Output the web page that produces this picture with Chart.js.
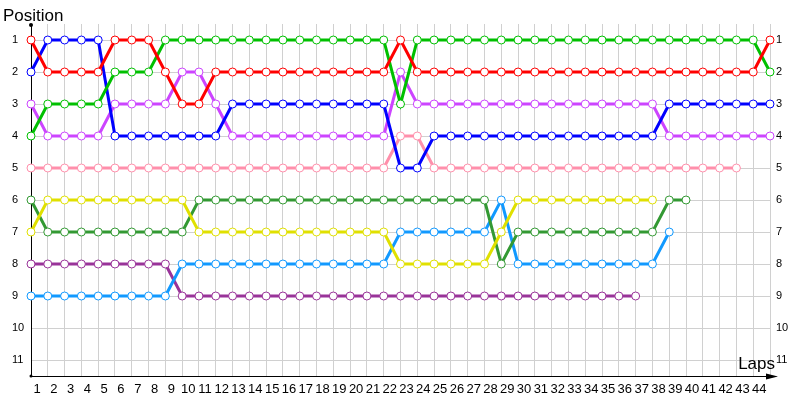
<!DOCTYPE html>
<html>
<head>
<meta charset="utf-8">
<title>Lap chart</title>
<script src="https://cdn.jsdelivr.net/npm/chart.js@4.4.1/dist/chart.umd.min.js"></script>
<style>
  html, body { margin: 0; padding: 0; background: #ffffff; }
</style>
</head>
<body>
<canvas id="graficaVueltas" width="800" height="400"></canvas>
<script>
// =============================================
// DATOS
// =============================================

// Vueltas (0 = salida) y etiquetas del eje X
const vueltas = [0, 1, 2, 3, 4, 5, 6, 7, 8, 9, 10, 11, 12, 13, 14, 15, 16, 17, 18, 19, 20,
  21, 22, 23, 24, 25, 26, 27, 28, 29, 30, 31, 32, 33, 34, 35, 36, 37, 38, 39, 40, 41, 42, 43, 44];
const etiquetasVueltas = ["1", "2", "3", "4", "5", "6", "7", "8", "9", "10", "11", "12", "13", "14",
  "15", "16", "17", "18", "19", "20", "21", "22", "23", "24", "25", "26", "27", "28", "29", "30",
  "31", "32", "33", "34", "35", "36", "37", "38", "39", "40", "41", "42", "43", "44"];
const posiciones = [1, 2, 3, 4, 5, 6, 7, 8, 9, 10, 11];

// Posición de cada piloto en cada vuelta
const rojo = [1, 2, 2, 2, 2, 1, 1, 1, 2, 3, 3, 2, 2, 2, 2, 2, 2, 2, 2, 2, 2, 2, 1, 2, 2,
  2, 2, 2, 2, 2, 2, 2, 2, 2, 2, 2, 2, 2, 2, 2, 2, 2, 2, 2, 1];
const azul = [2, 1, 1, 1, 1, 4, 4, 4, 4, 4, 4, 4, 3, 3, 3, 3, 3, 3, 3, 3, 3, 3, 5, 5, 4,
  4, 4, 4, 4, 4, 4, 4, 4, 4, 4, 4, 4, 4, 3, 3, 3, 3, 3, 3, 3];
const verde = [4, 3, 3, 3, 3, 2, 2, 2, 1, 1, 1, 1, 1, 1, 1, 1, 1, 1, 1, 1, 1, 1, 3, 1, 1,
  1, 1, 1, 1, 1, 1, 1, 1, 1, 1, 1, 1, 1, 1, 1, 1, 1, 1, 1, 2];
const magenta = [3, 4, 4, 4, 4, 3, 3, 3, 3, 2, 2, 3, 4, 4, 4, 4, 4, 4, 4, 4, 4, 4, 2, 3, 3,
  3, 3, 3, 3, 3, 3, 3, 3, 3, 3, 3, 3, 3, 4, 4, 4, 4, 4, 4, 4];
const rosa = [5, 5, 5, 5, 5, 5, 5, 5, 5, 5, 5, 5, 5, 5, 5, 5, 5, 5, 5, 5, 5, 5, 4, 4, 5,
  5, 5, 5, 5, 5, 5, 5, 5, 5, 5, 5, 5, 5, 5, 5, 5, 5, 5];
const verdeOscuro = [6, 7, 7, 7, 7, 7, 7, 7, 7, 7, 6, 6, 6, 6, 6, 6, 6, 6, 6, 6, 6, 6, 6, 6, 6,
  6, 6, 6, 8, 7, 7, 7, 7, 7, 7, 7, 7, 7, 6, 6];
const amarillo = [7, 6, 6, 6, 6, 6, 6, 6, 6, 6, 7, 7, 7, 7, 7, 7, 7, 7, 7, 7, 7, 7, 8, 8, 8,
  8, 8, 8, 7, 6, 6, 6, 6, 6, 6, 6, 6, 6];
const celeste = [9, 9, 9, 9, 9, 9, 9, 9, 9, 8, 8, 8, 8, 8, 8, 8, 8, 8, 8, 8, 8, 8, 7, 7, 7,
  7, 7, 7, 6, 8, 8, 8, 8, 8, 8, 8, 8, 8, 7];
const morado = [8, 8, 8, 8, 8, 8, 8, 8, 8, 9, 9, 9, 9, 9, 9, 9, 9, 9, 9, 9, 9, 9, 9, 9, 9,
  9, 9, 9, 9, 9, 9, 9, 9, 9, 9, 9, 9];

// =============================================
// CONFIGURACIÓN
// =============================================

const fuente = "'Liberation Sans', Arial, sans-serif";
const colorRejilla = "#d0d0d0";

const series = [
  { datos: rojo, color: "#ff0000" },
  { datos: verde, color: "#00c000" },
  { datos: azul, color: "#0000ff" },
  { datos: magenta, color: "#cc44ff" },
  { datos: rosa, color: "#ff8fab" },
  { datos: amarillo, color: "#e0e000" },
  { datos: verdeOscuro, color: "#339933" },
  { datos: celeste, color: "#1199ff" },
  { datos: morado, color: "#993399" },
];

// Ejes: misma escala a izquierda y derecha
function ejePosicion(lado) {
  return {
    type: "linear",
    position: lado,
    reverse: true,
    min: 0.5,
    max: 11.5,
    afterBuildTicks: (escala) => {
      escala.ticks = posiciones.map((v) => ({ value: v }));
    },
    grid: { display: lado === "left", color: colorRejilla, drawTicks: false },
    border: { display: lado === "left", color: "#000000", width: 1 },
    ticks: {
      crossAlign: lado === "left" ? "far" : "near",
      padding: lado === "left" ? 0 : 6,
      color: "#000000",
      font: { family: fuente, size: 11 },
    },
    afterFit: (escala) => {
      escala.width = lado === "left" ? 19 : 30;
    },
  };
}

// Flecha, puntos de los ejes y títulos
const decoracionEjes = {
  id: "decoracionEjes",
  afterDraw(chart) {
    const { ctx, chartArea: area } = chart;
    ctx.save();
    ctx.fillStyle = "#000000";
    ctx.strokeStyle = "#000000";
    ctx.lineWidth = 1;

    ctx.beginPath();
    ctx.arc(area.left, area.top + 1, 2, 0, Math.PI * 2);
    ctx.fill();
    ctx.beginPath();
    ctx.arc(area.left, area.bottom, 1.5, 0, Math.PI * 2);
    ctx.fill();

    ctx.beginPath();
    ctx.moveTo(area.right, area.bottom + 0.5);
    ctx.lineTo(area.right + 4, area.bottom + 0.5);
    ctx.stroke();
    ctx.beginPath();
    ctx.moveTo(area.right + 8, area.bottom + 0.5);
    ctx.lineTo(area.right - 4, area.bottom - 2.5);
    ctx.lineTo(area.right - 4, area.bottom + 3.5);
    ctx.closePath();
    ctx.fill();

    ctx.font = "17px " + fuente;
    ctx.textBaseline = "alphabetic";
    ctx.textAlign = "left";
    ctx.fillText("Position", 3, 21);
    ctx.textAlign = "right";
    ctx.fillText("Laps", 775, 369);
    ctx.restore();
  },
};

// =============================================
// GRÁFICA
// =============================================

document.addEventListener("DOMContentLoaded", function () {
  const ctx = document.getElementById("graficaVueltas").getContext("2d");

  new Chart(ctx, {
    type: "line",
    data: {
      labels: vueltas,
      datasets: series.map((s) => ({
        data: s.datos,
        borderColor: s.color,
        backgroundColor: "#ffffff",
        pointBackgroundColor: "#ffffff",
        pointBorderColor: s.color,
        pointRadius: 4,
        pointBorderWidth: 1,
        borderWidth: 3,
        tension: 0,
        fill: false,
      })),
    },
    options: {
      responsive: false,
      animation: false,
      layout: { padding: { left: 12, top: 24, right: 0, bottom: 0 } },
      plugins: {
        legend: { display: false },
        tooltip: { enabled: false },
      },
      scales: {
        x: {
          type: "category",
          offset: false,
          grid: { color: colorRejilla, drawTicks: false },
          border: { color: "#000000", width: 1 },
          ticks: {
            autoSkip: false,
            maxRotation: 0,
            labelOffset: 6,
            padding: 6,
            color: "#000000",
            font: { family: fuente, size: 13 },
            callback: (valor, i) => etiquetasVueltas[i] ?? "",
          },
          afterFit: (escala) => {
            escala.height = 24;
          },
        },
        y: ejePosicion("left"),
        y2: ejePosicion("right"),
      },
    },
    plugins: [decoracionEjes],
  });
});
</script>
</body>
</html>
